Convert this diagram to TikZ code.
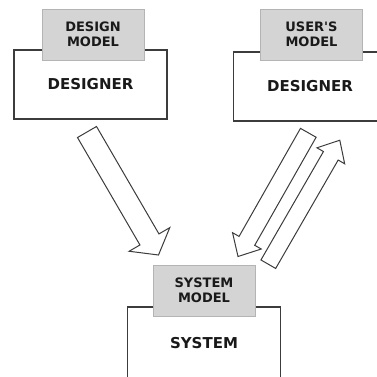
\documentclass[tikz,border=0pt]{standalone}
\usepackage{fontspec}
\setmainfont{DejaVu Sans}
\usetikzlibrary{positioning,calc}
\definecolor{modelgray}{HTML}{D4D4D4}
\definecolor{modeledge}{HTML}{B4B4B4}
\definecolor{boxline}{HTML}{3C3C3C}
\newcommand{\fatarrow}[5]{%
	\draw[fat arrow] ($(#1)!#3!90:(#2)$)
		-- ($(#2)!#5!(#1)!#3!90:(#2)$)
		-- ($(#2)!#5!(#1)!#4!90:(#2)$)
		-- (#2)
		-- ($(#2)!#5!(#1)!#4!-90:(#2)$)
		-- ($(#2)!#5!(#1)!#3!-90:(#2)$)
		-- ($(#1)!#3!-90:(#2)$)
		-- cycle;}
\begin{document}
\begin{tikzpicture}
			[
				x                 = 1pt,
				y                 = 1pt,
				role/.style       = {draw=boxline, line width=1.3pt, fill=white,
				                     minimum width=153pt, minimum height=69pt, inner sep=0pt,
				                     font=\fontsize{15}{18}\selectfont\bfseries, text=black!90},
				model/.style      = {draw=modeledge, line width=0.8pt, fill=modelgray,
				                     minimum width=102pt, minimum height=51pt, inner sep=0pt,
				                     align=center, font=\fontsize{13}{15}\selectfont\bfseries, text=black!90},
				fat arrow/.style  = {draw=boxline, line width=1pt, fill=white, line join=miter}
			]
			\clip (0,0) rectangle (377,-376);
			\node [role] (designer) at (90.5,-84.5) {DESIGNER};
			\node [model, above=-11pt of designer.north, xshift=2.5pt] (designmodel) {DESIGN\\MODEL};
			\node [role] (user) at (310,-86.5) {DESIGNER};
			\node [model, above=-9pt of user.north, xshift=1.5pt] (usermodel) {USER\textquotesingle S\\MODEL};
			\node [role, minimum height=72pt] (system) at (204,-343) {SYSTEM};
			\node [model, above=-10pt of system.north] (systemmodel) {SYSTEM\\MODEL};
			\coordinate (designtail) at (87,-132);
			\coordinate (designtip) at (158.5,-255);
			\coordinate (usertail) at (308.3,-132.8);
			\coordinate (usertip) at (238,-256.5);
			\coordinate (backtail) at (268.3,-264.2);
			\coordinate (backtip) at (339.8,-140.2);
			\fatarrow{designtail}{designtip}{11pt}{23.5pt}{18pt}
			\fatarrow{usertail}{usertip}{9pt}{16.5pt}{18pt}
			\fatarrow{backtail}{backtip}{8.5pt}{16pt}{18pt}
		\end{tikzpicture}
\end{document}
